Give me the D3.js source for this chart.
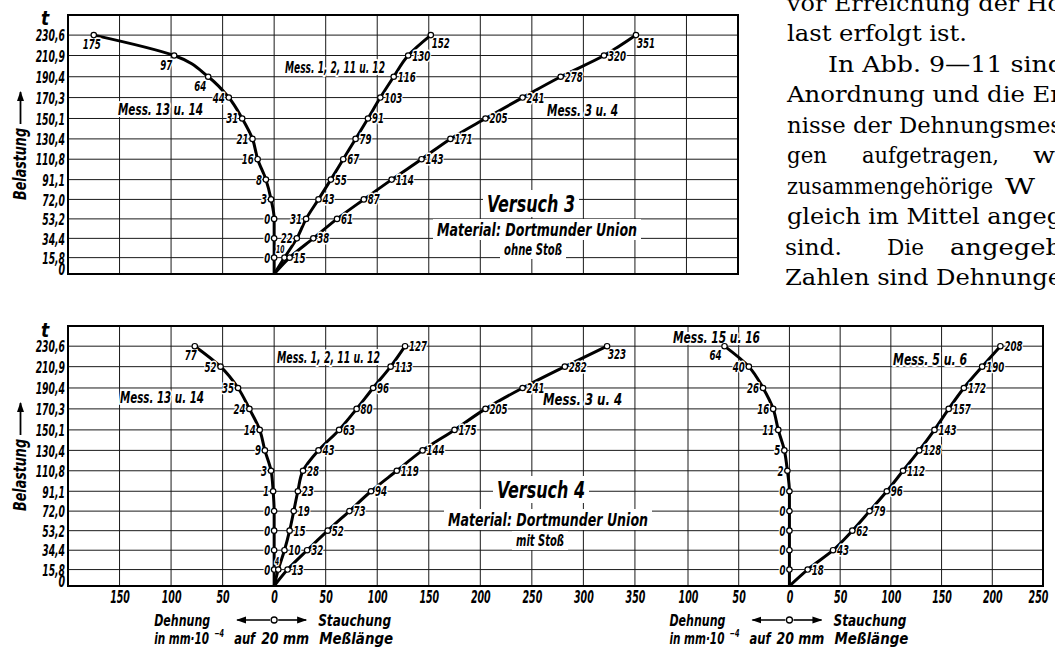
<!DOCTYPE html>
<html><head><meta charset="utf-8">
<script src="https://cdn.jsdelivr.net/npm/d3@7"></script>
<style>
body{margin:0;background:#fff;}
svg{display:block;}
</style></head><body>
<svg id="c" width="1055" height="653"></svg>
<script>
// ---------------- data ----------------
const loads = [15.8, 34.4, 53.2, 72.0, 91.1, 110.8, 130.4, 150.1, 170.3, 190.4, 210.9, 230.6];
const loadTickValues = [0, 15.8, 34.4, 53.2, 72.0, 91.1, 110.8, 130.4, 150.1, 170.3, 190.4, 210.9, 230.6];
const loadTickLabels = ["0", "15,8", "34,4", "53,2", "72,0", "91,1", "110,8", "130,4", "150,1", "170,3", "190,4", "210,9", "230,6"];
const xTicksLeft = [-150, -100, -50, 0, 50, 100, 150, 200, 250, 300, 350];
const xTicksRight = [-100, -50, 0, 50, 100, 150, 200, 250];

// Versuch 3 (ohne Stoß)
const v3_mess13u14 = [0, 0, 0, 3, 8, 16, 21, 31, 44, 64, 97, 175];      // Dehnung
const v3_mess1_2_11u12 = [10, 22, 31, 43, 55, 67, 79, 91, 103, 116, 130, 152];
const v3_mess3u4 = [15, 38, 61, 87, 114, 143, 171, 205, 241, 278, 320, 351];
// Versuch 4 (mit Stoß)
const v4_mess13u14 = [0, 0, 0, 0, 1, 3, 9, 14, 24, 35, 52, 77];         // Dehnung
const v4_mess1_2_11u12 = [4, 10, 15, 19, 23, 28, 43, 63, 80, 96, 113, 127];
const v4_mess3u4 = [13, 32, 52, 73, 94, 119, 144, 175, 205, 241, 282, 323];
const v4_mess15u16 = [0, 0, 0, 0, 0, 2, 5, 11, 16, 26, 40, 64];         // Dehnung
const v4_mess5u6 = [18, 43, 62, 79, 96, 112, 128, 143, 157, 172, 190, 208];

// ---------------- setup ----------------
const FONT = '"DejaVu Sans Condensed","Liberation Sans Narrow",sans-serif';
const SERIF = '"DejaVu Serif","Liberation Serif",serif';
const svg = d3.select("#c");
const defs = svg.append("defs");
defs.append("marker").attr("id","ah").attr("viewBox","0 0 10 8").attr("refX",9).attr("refY",4)
  .attr("markerWidth",10).attr("markerHeight",8).attr("markerUnits","userSpaceOnUse")
  .attr("orient","auto-start-reverse")
  .append("path").attr("d","M0,0.5 L10,4 L0,7.5 Z").attr("fill","#000");

const xL = d3.scaleLinear().domain([-200, 450]).range([68, 738]);
const xR = d3.scaleLinear().domain([-100, 250]).range([688, 1043]);
const yT = d3.scaleLinear().domain([0, 250]).range([274, 15]);
const yB = d3.scaleLinear().domain([0, 250]).range([586, 326]);

// width a condensed technical lettering would take
function narrowWidth(s, digitW) {
  let w = 0;
  for (const c of String(s)) w += /[0-9]/.test(c) ? digitW : (c === "," ? digitW * 0.45 : digitW * 0.9);
  return w;
}

function txt(g, s, x, y, o = {}) {
  const t = g.append("text").attr("x", x).attr("y", y).text(s)
    .attr("font-family", o.family || FONT).attr("font-style", o.style || "italic")
    .attr("font-size", o.size || 16).attr("text-anchor", o.anchor || "start")
    .attr("font-weight", o.weight || "normal")
    .attr("fill", "#000");
  if (o.len) t.attr("textLength", o.len).attr("lengthAdjust", "spacingAndGlyphs");
  if (o.halo) t.attr("stroke", "#fff").attr("stroke-width", o.halo).attr("paint-order", "stroke").attr("stroke-linejoin", "round");
  return t;
}

function grid(g, xa, xb, yS, xS, vlines) {
  g.append("g").selectAll("line").data(loads).join("line")
    .attr("x1", xa).attr("x2", xb).attr("y1", d => yS(d)).attr("y2", d => yS(d))
    .attr("stroke", "#1a1a1a").attr("stroke-width", 1);
  g.append("g").selectAll("line").data(vlines).join("line")
    .attr("x1", d => xS(d)).attr("x2", d => xS(d)).attr("y1", yS(0)).attr("y2", yS(250))
    .attr("stroke", "#1a1a1a").attr("stroke-width", 1);
}

function styleAxisText(sel, size, digitW) {
  sel.attr("font-family", FONT).attr("font-style", "italic").attr("font-weight", "bold")
    .attr("font-size", size).attr("fill", "#000")
    .each(function () {
      d3.select(this).attr("textLength", narrowWidth(this.textContent, digitW))
        .attr("lengthAdjust", "spacingAndGlyphs");
    });
}

function yAxis(g, yS) {
  const ax = g.append("g").attr("transform", "translate(65,0)")
    .call(d3.axisLeft(yS).tickValues(loadTickValues).tickSize(0).tickPadding(0)
      .tickFormat((d, i) => loadTickLabels[i]));
  ax.select(".domain").remove();
  styleAxisText(ax.selectAll("text"), 16, 6.6);
  ax.selectAll("text").attr("dy", "0.36em");
  ax.selectAll(".tick").filter(d => d === 0).select("text").attr("dy", "0.02em");
}

function belastung(g, yBottom) {
  const r = g.append("g").attr("transform", `translate(26,${yBottom}) rotate(-90)`);
  txt(r, "Belastung", 0, 0, { size: 17, len: 72, weight: "bold" });
  r.append("line").attr("x1", 76).attr("x2", 108).attr("y1", -5.5).attr("y2", -5.5)
    .attr("stroke", "#000").attr("stroke-width", 1.8).attr("marker-end", "url(#ah)");
}

function series(g, xS, yS, vals, sign, o = {}) {
  const pts = [[0, 0]].concat(vals.map((v, i) => [sign * v, loads[i]]));
  const line = d3.line().x(d => xS(d[0])).y(d => yS(d[1])).curve(d3.curveMonotoneY);
  g.append("path").datum(pts).attr("d", line).attr("fill", "none")
    .attr("stroke", "#000").attr("stroke-width", 3).attr("stroke-linejoin", "round");
  const n = vals.length;
  const lg = g.append("g");
  vals.forEach((v, i) => {
    const px = xS(sign * v), py = yS(loads[i]);
    const k = n - 1 - i;
    let x, y, anchor, size = 14, dw = 6.0;
    if (i === 0 && o.firstSmall) {
      x = px + (o.firstDx || 0); y = py - 5; anchor = "end"; size = 10; dw = 4.2;
    } else if (sign < 0) {
      if (k < (o.below || 0)) { anchor = "end"; x = px + (k === 0 ? (o.topDx || 0) : -2); y = py + 14; }
      else { anchor = "end"; x = px - 4; y = py + 5; }
    } else {
      if (o.leftIdx && o.leftIdx.includes(i)) { anchor = "end"; x = px - 4; y = py + 5; }
      else if (k === 0 && o.topBelow) { anchor = "start"; x = px + 1; y = py + 13; }
      else { anchor = "start"; x = px + 4; y = py + 5; }
    }
    txt(lg, String(v), x, y, { size, anchor, halo: 3, weight: "bold", len: narrowWidth(v, dw) });
  });
  g.append("g").selectAll("circle").data(vals).join("circle")
    .attr("cx", d => xS(sign * d)).attr("cy", (d, i) => yS(loads[i])).attr("r", 2.7)
    .attr("fill", "#fff").attr("stroke", "#000").attr("stroke-width", 1.2);
}

function boxedText(g, s, x, y, o) {
  const t = txt(g, s, x, y, o);
  const b = t.node().getBBox();
  g.insert("rect", () => t.node()).attr("x", b.x - 4).attr("y", b.y - 1)
    .attr("width", b.width + 8).attr("height", b.height + 1).attr("fill", "#fff");
  return t;
}

// ---------------- top chart: Versuch 3 ----------------
const gTop = svg.append("g");
grid(gTop, 68, 738, yT, xL, d3.range(-150, 450, 50));
gTop.append("rect").attr("x", 68).attr("y", 15).attr("width", 670).attr("height", 259)
  .attr("fill", "none").attr("stroke", "#000").attr("stroke-width", 2);
yAxis(gTop, yT);
txt(gTop, "t", 45, 25, { size: 19, anchor: "middle", weight: "bold" });
belastung(gTop, 200);

const tLab = gTop.append("g");
const annot = { size: 16, halo: 4, weight: "bold" };
txt(tLab, "Mess. 13 u. 14", 118, 115, { ...annot, len: 85 });
txt(tLab, "Mess. 1, 2, 11 u. 12", 285, 73, { ...annot, len: 100 });
txt(tLab, "Mess. 3 u. 4", 547, 116, { ...annot, len: 71 });
boxedText(tLab, "Versuch 3", 531, 212, { size: 23, len: 88, anchor: "middle", weight: "bold" });
boxedText(tLab, "Material: Dortmunder Union", 537, 236, { size: 17, len: 200, anchor: "middle", weight: "bold" });
boxedText(tLab, "ohne Stoß", 533, 255, { size: 15, len: 58, anchor: "middle", weight: "bold" });

series(gTop, xL, yT, v3_mess13u14, -1, { below: 3, topDx: 7 });
series(gTop, xL, yT, v3_mess1_2_11u12, 1, { firstSmall: true, firstDx: 0, leftIdx: [1, 2], topBelow: true });
series(gTop, xL, yT, v3_mess3u4, 1, { topBelow: true });

// ---------------- bottom chart: Versuch 4 ----------------
const gBot = svg.append("g");
grid(gBot, 68, 1043, yB, xL, d3.range(-150, 400, 50));
gBot.append("g").selectAll("line").data(d3.range(-100, 250, 50)).join("line")
  .attr("x1", d => xR(d)).attr("x2", d => xR(d)).attr("y1", yB(0)).attr("y2", yB(250))
  .attr("stroke", "#1a1a1a").attr("stroke-width", 1);
gBot.append("rect").attr("x", 68).attr("y", 326).attr("width", 975).attr("height", 260)
  .attr("fill", "none").attr("stroke", "#000").attr("stroke-width", 2);
yAxis(gBot, yB);
txt(gBot, "t", 45, 337, { size: 19, anchor: "middle", weight: "bold" });
belastung(gBot, 511);

function xAxis(g, xS, vals) {
  const ax = g.append("g").attr("transform", "translate(0,586)")
    .call(d3.axisBottom(xS).tickValues(vals).tickSize(0).tickPadding(5).tickFormat(d => Math.abs(d)));
  ax.select(".domain").remove();
  styleAxisText(ax.selectAll("text"), 17, 6.6);
  return ax;
}
xAxis(gBot, xL, xTicksLeft);
xAxis(gBot, xR, xTicksRight).selectAll(".tick").filter(d => d === 250).select("text").attr("dx", -5);

const bLab = gBot.append("g");
txt(bLab, "Mess. 13 u. 14", 120, 403, { ...annot, len: 84 });
txt(bLab, "Mess. 1, 2, 11 u. 12", 277, 363, { ...annot, len: 103 });
txt(bLab, "Mess. 3 u. 4", 543, 405, { ...annot, len: 79 });
txt(bLab, "Mess. 15 u. 16", 673, 343, { ...annot, len: 87 });
txt(bLab, "Mess. 5 u. 6", 893, 365, { ...annot, len: 74 });
boxedText(bLab, "Versuch 4", 541, 498, { size: 23, len: 88, anchor: "middle", weight: "bold" });
boxedText(bLab, "Material: Dortmunder Union", 548, 526, { size: 17, len: 200, anchor: "middle", weight: "bold" });
boxedText(bLab, "mit Stoß", 540, 546, { size: 15, len: 48, anchor: "middle", weight: "bold" });

series(gBot, xL, yB, v4_mess13u14, -1, { below: 1, topDx: 2 });
series(gBot, xL, yB, v4_mess1_2_11u12, 1, { firstSmall: true, firstDx: 1 });
series(gBot, xL, yB, v4_mess3u4, 1, { topBelow: true });
series(gBot, xR, yB, v4_mess15u16, -1, { below: 1, topDx: -3 });
series(gBot, xR, yB, v4_mess5u6, 1, {});

// Dehnung / Stauchung legends
function dirLegend(g, x0) {
  const o = { size: 16, weight: "bold" };
  txt(g, "Dehnung", x0 - 120, 626, { ...o, len: 56 });
  txt(g, "Stauchung", x0 + 44, 626, { ...o, len: 73 });
  g.append("line").attr("x1", x0 - 4).attr("x2", x0 - 37).attr("y1", 620).attr("y2", 620)
    .attr("stroke", "#000").attr("stroke-width", 1.6).attr("marker-end", "url(#ah)");
  g.append("line").attr("x1", x0 + 4).attr("x2", x0 + 32).attr("y1", 620).attr("y2", 620)
    .attr("stroke", "#000").attr("stroke-width", 1.6).attr("marker-end", "url(#ah)");
  g.append("circle").attr("cx", x0).attr("cy", 620).attr("r", 3).attr("fill", "#fff")
    .attr("stroke", "#000").attr("stroke-width", 1.3);
  const o2 = { size: 15, weight: "bold" };
  txt(g, "in mm·10", x0 - 120, 644, { ...o2, len: 55 });
  txt(g, "−4", x0 - 60, 637, { size: 10, weight: "bold", len: 10 });
  txt(g, "auf", x0 - 40, 644, { ...o2, len: 21 });
  txt(g, "20 mm", x0 - 13, 644, { ...o2, len: 48 });
  txt(g, "Meßlänge", x0 + 45, 644, { ...o2, len: 74 });
}
dirLegend(svg.append("g"), xL(0));
dirLegend(svg.append("g"), xR(0));

// ---------------- body text (page) ----------------
const bodyLines = [
  [["vor Erreichung der Hö", 787, 1062]],
  [["last erfolgt ist.", 787, 967]],
  [["In Abb. 9—11 sind", 828, 1064]],
  [["Anordnung und die Er", 787, 1062]],
  [["nisse der Dehnungsmes", 787, 1062]],
  [["gen", 787, 827], ["aufgetragen,", 862, 999], ["w", 1033, 1055]],
  [["zusammengehörige", 787, 993], ["W", 1005, 1035]],
  [["gleich im Mittel angeg", 787, 1062]],
  [["sind.", 785, 842], ["Die", 887, 924], ["angegeb", 950, 1062]],
  [["Zahlen sind Dehnunge", 785, 1062]]
];
const gBody = svg.append("g");
bodyLines.forEach((ln, i) => {
  const y = 10.5 + 30.5 * i;
  ln.forEach(([s, a, b]) => txt(gBody, s, a, y, { family: SERIF, style: "normal", size: 22, len: b - a }));
});
</script>
</body></html>
